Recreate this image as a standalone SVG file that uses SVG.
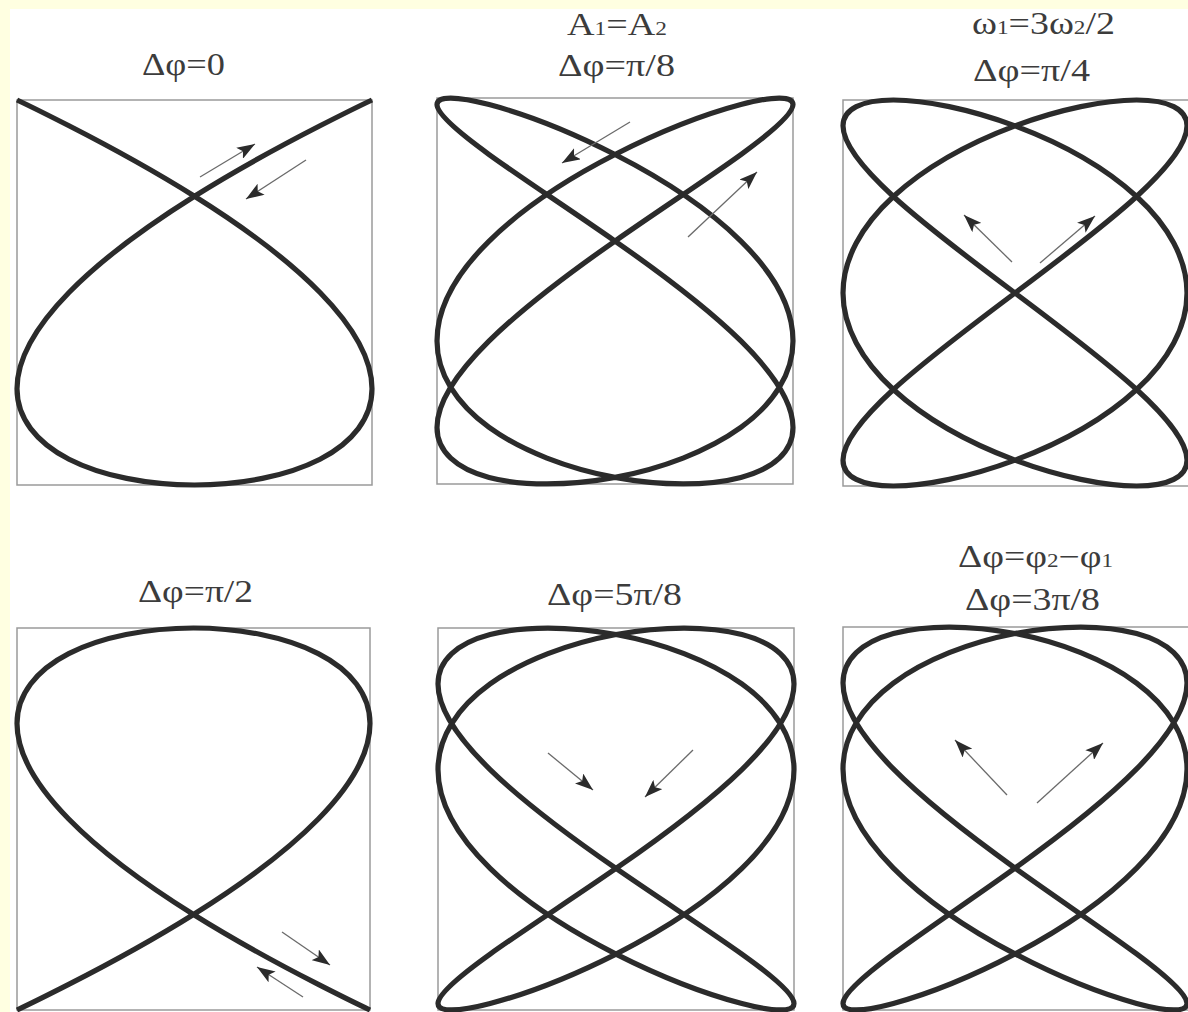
<svg xmlns="http://www.w3.org/2000/svg" width="1188" height="1012" viewBox="0 0 1188 1012">
<style>
.box{fill:#fff;stroke:#9a9a9a;stroke-width:1.5}
.curve{fill:none;stroke:#2b2b2b;stroke-width:5.2;vector-effect:non-scaling-stroke;stroke-linejoin:round}
.lbl{font-family:"Liberation Serif","Times New Roman",serif;font-size:31px;fill:#3c3c3c}
.sub{font-size:19px}
.arr{stroke:#6a6a6a;stroke-width:1.3;fill:none;marker-end:url(#ah)}
</style>
<defs>
<marker id="ah" viewBox="0 0 18 13" refX="18" refY="6.5" markerWidth="18" markerHeight="13" markerUnits="userSpaceOnUse" orient="auto">
<path d="M0,0 L18,6.5 L0,13 L4,6.5 Z" fill="#2b2b2b"/>
</marker>
</defs>
<rect x="0" y="0" width="1188" height="1012" fill="#FFFFE1"/>
<rect x="10" y="9" width="1178" height="1003" fill="#fff"/>

<g id="panel1">
<rect class="box" x="17" y="100" width="355" height="385"/>
<path class="curve" transform="translate(194.5,292.5) scale(177.5,-192.5)" d="M1,1 C1,1 .8922,.9533 .7071,.866 C.522,.7787 .2618,.6511 0,.5 C-.2618,.3489 -.522,.1745 -.7071,0 C-.8922,-.1745 -1,-.3489 -1,-.5 C-1,-.6511 -.8922,-.7787 -.7071,-.866 C-.522,-.9533 -.2618,-1 0,-1 C.2618,-1 .522,-.9533 .7071,-.866 C.8922,-.7787 1,-.6511 1,-.5 C1,-.3489 .8922,-.1745 .7071,0 C.522,.1745 .2618,.3489 0,.5 C-.2618,.6511 -.522,.7787 -.7071,.866 C-.8922,.9533 -1,1 -1,1"/>
<text class="lbl" x="142" y="75" textLength="83" lengthAdjust="spacingAndGlyphs">Δφ=0</text>
</g>

<g id="panel2">
<rect class="box" x="437" y="98" width="356" height="386"/>
<path class="curve" transform="translate(615,291) scale(178,-193)" d="M1,.9659 C1,.9207 .8922,.8305 .7071,.7071 C.522,.5837 .2618,.4274 0,.2588 C-.2618,.0902 -.522,-.0902 -.7071,-.2588 C-.8922,-.4274 -1,-.5837 -1,-.7071 C-1,-.8305 -.8922,-.9207 -.7071,-.9659 C-.522,-1.0111 -.2618,-1.0111 0,-.9659 C.2618,-.9207 .522,-.8305 .7071,-.7071 C.8922,-.5837 1,-.4274 1,-.2588 C1,-.0902 .8922,.0902 .7071,.2588 C.522,.4274 .2618,.5837 0,.7071 C-.2618,.8305 -.522,.9207 -.7071,.9659 C-.8922,1.0111 -1,1.0111 -1,.9659 C-1,.9207 -.8922,.8305 -.7071,.7071 C-.522,.5837 -.2618,.4274 0,.2588 C.2618,.0902 .522,-.0902 .7071,-.2588 C.8922,-.4274 1,-.5837 1,-.7071 C1,-.8305 .8922,-.9207 .7071,-.9659 C.522,-1.0111 .2618,-1.0111 0,-.9659 C-.2618,-.9207 -.522,-.8305 -.7071,-.7071 C-.8922,-.5837 -1,-.4274 -1,-.2588 C-1,-.0902 -.8922,.0902 -.7071,.2588 C-.522,.4274 -.2618,.5837 0,.7071 C.2618,.8305 .522,.9207 .7071,.9659 C.8922,1.0111 1,1.0111 1,.9659 Z"/>
<text class="lbl" x="567" y="35" textLength="100" lengthAdjust="spacingAndGlyphs">A<tspan class="sub">1</tspan>=A<tspan class="sub">2</tspan></text>
<text class="lbl" x="558" y="76" textLength="117" lengthAdjust="spacingAndGlyphs">Δφ=π/8</text>
</g>

<g id="panel3">
<rect class="box" x="843" y="100" width="352" height="386"/>
<path class="curve" transform="translate(1015,293) scale(172,-193)" d="M1,.866 C1,.7787 .8922,.6511 .7071,.5 C.522,.3489 .2618,.1745 0,0 C-.2618,-.1745 -.522,-.3489 -.7071,-.5 C-.8922,-.6511 -1,-.7787 -1,-.866 C-1,-.9533 -.8922,-1 -.7071,-1 C-.522,-1 -.2618,-.9533 0,-.866 C.2618,-.7787 .522,-.6511 .7071,-.5 C.8922,-.3489 1,-.1745 1,0 C1,.1745 .8922,.3489 .7071,.5 C.522,.6511 .2618,.7787 0,.866 C-.2618,.9533 -.522,1 -.7071,1 C-.8922,1 -1,.9533 -1,.866 C-1,.7787 -.8922,.6511 -.7071,.5 C-.522,.3489 -.2618,.1745 0,0 C.2618,-.1745 .522,-.3489 .7071,-.5 C.8922,-.6511 1,-.7787 1,-.866 C1,-.9533 .8922,-1 .7071,-1 C.522,-1 .2618,-.9533 0,-.866 C-.2618,-.7787 -.522,-.6511 -.7071,-.5 C-.8922,-.3489 -1,-.1745 -1,0 C-1,.1745 -.8922,.3489 -.7071,.5 C-.522,.6511 -.2618,.7787 0,.866 C.2618,.9533 .522,1 .7071,1 C.8922,1 1,.9533 1,.866 Z"/>
<text class="lbl" x="972" y="34" textLength="143" lengthAdjust="spacingAndGlyphs">ω<tspan class="sub">1</tspan>=3ω<tspan class="sub">2</tspan>/2</text>
<text class="lbl" x="973" y="81" textLength="117" lengthAdjust="spacingAndGlyphs">Δφ=π/4</text>
</g>

<g id="panel4">
<rect class="box" x="17" y="628" width="353" height="382"/>
<path class="curve" transform="translate(193.5,819) scale(176.5,191)" d="M1,1 C1,1 .8922,.9533 .7071,.866 C.522,.7787 .2618,.6511 0,.5 C-.2618,.3489 -.522,.1745 -.7071,0 C-.8922,-.1745 -1,-.3489 -1,-.5 C-1,-.6511 -.8922,-.7787 -.7071,-.866 C-.522,-.9533 -.2618,-1 0,-1 C.2618,-1 .522,-.9533 .7071,-.866 C.8922,-.7787 1,-.6511 1,-.5 C1,-.3489 .8922,-.1745 .7071,0 C.522,.1745 .2618,.3489 0,.5 C-.2618,.6511 -.522,.7787 -.7071,.866 C-.8922,.9533 -1,1 -1,1"/>
<text class="lbl" x="138" y="602" textLength="115" lengthAdjust="spacingAndGlyphs">Δφ=π/2</text>
</g>

<g id="panel5">
<rect class="box" x="438" y="628" width="356" height="382"/>
<path class="curve" transform="translate(616,819) scale(178,191)" d="M1,.9659 C1,.9207 .8922,.8305 .7071,.7071 C.522,.5837 .2618,.4274 0,.2588 C-.2618,.0902 -.522,-.0902 -.7071,-.2588 C-.8922,-.4274 -1,-.5837 -1,-.7071 C-1,-.8305 -.8922,-.9207 -.7071,-.9659 C-.522,-1.0111 -.2618,-1.0111 0,-.9659 C.2618,-.9207 .522,-.8305 .7071,-.7071 C.8922,-.5837 1,-.4274 1,-.2588 C1,-.0902 .8922,.0902 .7071,.2588 C.522,.4274 .2618,.5837 0,.7071 C-.2618,.8305 -.522,.9207 -.7071,.9659 C-.8922,1.0111 -1,1.0111 -1,.9659 C-1,.9207 -.8922,.8305 -.7071,.7071 C-.522,.5837 -.2618,.4274 0,.2588 C.2618,.0902 .522,-.0902 .7071,-.2588 C.8922,-.4274 1,-.5837 1,-.7071 C1,-.8305 .8922,-.9207 .7071,-.9659 C.522,-1.0111 .2618,-1.0111 0,-.9659 C-.2618,-.9207 -.522,-.8305 -.7071,-.7071 C-.8922,-.5837 -1,-.4274 -1,-.2588 C-1,-.0902 -.8922,.0902 -.7071,.2588 C-.522,.4274 -.2618,.5837 0,.7071 C.2618,.8305 .522,.9207 .7071,.9659 C.8922,1.0111 1,1.0111 1,.9659 Z"/>
<text class="lbl" x="547" y="605" textLength="135" lengthAdjust="spacingAndGlyphs">Δφ=5π/8</text>
</g>

<g id="panel6">
<rect class="box" x="843" y="627" width="352" height="383"/>
<path class="curve" transform="translate(1015,818.5) scale(172,191.5)" d="M1,.9659 C1,.9207 .8922,.8305 .7071,.7071 C.522,.5837 .2618,.4274 0,.2588 C-.2618,.0902 -.522,-.0902 -.7071,-.2588 C-.8922,-.4274 -1,-.5837 -1,-.7071 C-1,-.8305 -.8922,-.9207 -.7071,-.9659 C-.522,-1.0111 -.2618,-1.0111 0,-.9659 C.2618,-.9207 .522,-.8305 .7071,-.7071 C.8922,-.5837 1,-.4274 1,-.2588 C1,-.0902 .8922,.0902 .7071,.2588 C.522,.4274 .2618,.5837 0,.7071 C-.2618,.8305 -.522,.9207 -.7071,.9659 C-.8922,1.0111 -1,1.0111 -1,.9659 C-1,.9207 -.8922,.8305 -.7071,.7071 C-.522,.5837 -.2618,.4274 0,.2588 C.2618,.0902 .522,-.0902 .7071,-.2588 C.8922,-.4274 1,-.5837 1,-.7071 C1,-.8305 .8922,-.9207 .7071,-.9659 C.522,-1.0111 .2618,-1.0111 0,-.9659 C-.2618,-.9207 -.522,-.8305 -.7071,-.7071 C-.8922,-.5837 -1,-.4274 -1,-.2588 C-1,-.0902 -.8922,.0902 -.7071,.2588 C-.522,.4274 -.2618,.5837 0,.7071 C.2618,.8305 .522,.9207 .7071,.9659 C.8922,1.0111 1,1.0111 1,.9659 Z"/>
<text class="lbl" x="958" y="567" textLength="155" lengthAdjust="spacingAndGlyphs">Δφ=φ<tspan class="sub">2</tspan>−φ<tspan class="sub">1</tspan></text>
<text class="lbl" x="965" y="610" textLength="135" lengthAdjust="spacingAndGlyphs">Δφ=3π/8</text>
</g>

<g id="arrows">
<line class="arr" x1="200" y1="177" x2="255" y2="144"/>
<line class="arr" x1="306" y1="160" x2="246" y2="199"/>
<line class="arr" x1="630" y1="122" x2="562" y2="163"/>
<line class="arr" x1="688" y1="237" x2="757" y2="172"/>
<line class="arr" x1="1012" y1="262" x2="964" y2="215"/>
<line class="arr" x1="1040" y1="263" x2="1095" y2="216"/>
<line class="arr" x1="282" y1="932" x2="330" y2="965"/>
<line class="arr" x1="303" y1="997" x2="257" y2="967"/>
<line class="arr" x1="548" y1="753" x2="593" y2="790"/>
<line class="arr" x1="693" y1="750" x2="645" y2="797"/>
<line class="arr" x1="1007" y1="795" x2="955" y2="740"/>
<line class="arr" x1="1037" y1="803" x2="1103" y2="743"/>
</g>
</svg>
